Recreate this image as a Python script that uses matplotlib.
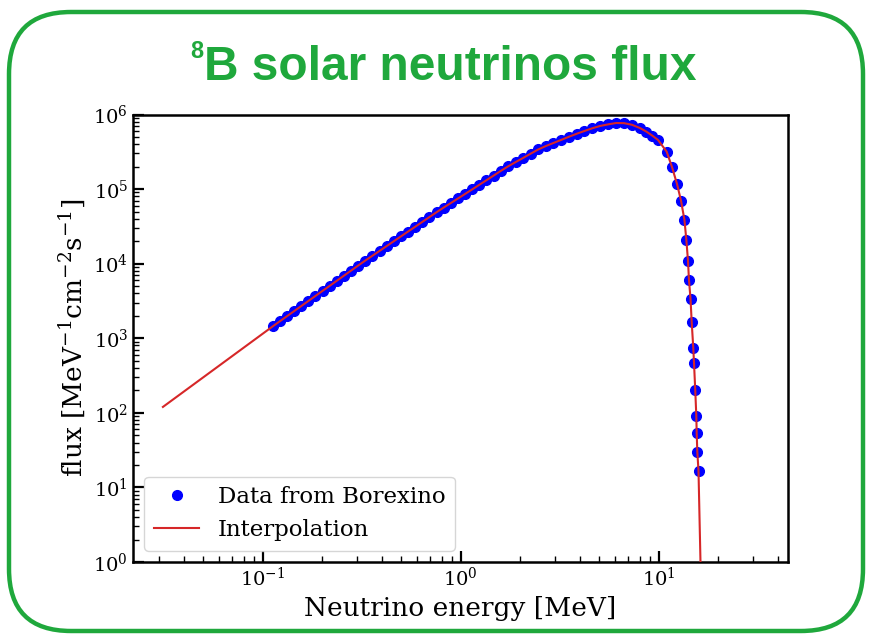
import numpy as np
import matplotlib
matplotlib.use("Agg")
import matplotlib.pyplot as plt
from matplotlib.patches import FancyBboxPatch

plt.rcParams['font.family'] = ['DejaVu Serif']
plt.rcParams['mathtext.fontset'] = 'dejavuserif'

# 8B neutrino spectrum points (MeV, MeV^-1 cm^-2 s^-1)
energy = [0.1122, 0.1219, 0.1324, 0.1439, 0.1563, 0.1698, 0.1845, 0.2004, 0.2178, 0.2366,
          0.2570, 0.2793, 0.3034, 0.3296, 0.3581, 0.3890, 0.4227, 0.4592, 0.4989, 0.5420,
          0.5888, 0.6397, 0.6950, 0.7551, 0.8204, 0.8913, 0.9683, 1.052, 1.143, 1.242,
          1.349, 1.466, 1.592, 1.738, 1.897, 2.070, 2.259, 2.466, 2.692, 2.938,
          3.206, 3.508, 3.846, 4.217, 4.624, 5.070, 5.559, 6.095, 6.683, 7.328,
          8.035, 8.650, 9.268, 9.920, 10.97, 11.67, 12.37, 12.96, 13.49, 13.80,
          14.06, 14.22, 14.48, 14.68, 14.95, 15.08, 15.30, 15.49, 15.56, 15.67, 15.89]
flux = [1442, 1687, 1972, 2307, 2698, 3155, 3690, 4315, 5047, 5902,
        6902, 8072, 9441, 1.102e4, 1.279e4, 1.483e4, 1.722e4, 2.000e4, 2.323e4, 2.698e4,
        3.126e4, 3.631e4, 4.217e4, 4.898e4, 5.662e4, 6.501e4, 7.482e4, 8.610e4, 9.908e4, 1.143e5,
        1.315e5, 1.517e5, 1.750e5, 2.023e5, 2.307e5, 2.624e5, 2.992e5, 3.404e5, 3.776e5, 4.150e5,
        4.550e5, 5.012e5, 5.508e5, 6.012e5, 6.546e5, 7.031e5, 7.379e5, 7.691e5, 7.656e5, 7.278e5,
        6.592e5, 5.916e5, 5.224e5, 4.560e5, 3.177e5, 1.982e5, 1.175e5, 7.015e4, 3.873e4, 2.056e4,
        1.094e4, 6081, 3388, 1643, 748, 467, 201, 90.8, 53.3, 30.1, 16.6]

# interpolation curve extends below the first point and down past the endpoint
curve_start_energy = [0.0313]
curve_start_flux = [120.0]
curve_end_energy = [16.26, 16.6]
curve_end_flux = [1.0, 0.2]

curve_energy = curve_start_energy + energy + curve_end_energy
curve_flux = curve_start_flux + flux + curve_end_flux

green = '#1fa83c'
title_font = ['Liberation Sans', 'DejaVu Sans']

fig = plt.figure(figsize=(8.72, 6.36), dpi=100)

# rounded frame around the whole panel
frame = FancyBboxPatch((9, 5), 854, 619, boxstyle="round,pad=0,rounding_size=62",
                       transform=None, facecolor='none', edgecolor=green, linewidth=3.2)
fig.patches.append(frame)

fig.text(190 / 872, 1 - 58 / 636, '8', color=green, fontsize=17, fontweight='bold',
         family=title_font, va='baseline', ha='left')
fig.text(204 / 872, 1 - 80 / 636, 'B solar neutrinos flux', color=green, fontsize=34.5,
         fontweight='bold', family=title_font, va='baseline', ha='left')

ax = fig.add_axes([133 / 872, 1 - 562 / 636, 655 / 872, 447.5 / 636])

ax.plot(energy, flux, 'o', color='blue', markersize=7, label='Data from Borexino', zorder=2)
ax.plot(curve_energy, curve_flux, '-', color='#d62728', linewidth=1.5, label='Interpolation', zorder=3)

ax.set_xscale('log')
ax.set_yscale('log')
ax.set_xlim(0.0221, 45)
ax.set_ylim(1, 1e6)

ax.tick_params(which='both', direction='in', top=False, right=False, labelsize=14)
ax.tick_params(which='major', length=8, width=1.6)
ax.tick_params(which='minor', length=4, width=1.0)
for sp in ax.spines.values():
    sp.set_linewidth(1.8)

ax.set_xlabel('Neutrino energy [MeV]', fontsize=19, labelpad=4)
ax.set_ylabel(r'flux [MeV$^{-1}$cm$^{-2}$s$^{-1}$]', fontsize=19, labelpad=4)

ax.legend(loc='lower left', fontsize=16.5, handlelength=2.0, borderaxespad=0.5)

fig.savefig('out.png', dpi=100)
